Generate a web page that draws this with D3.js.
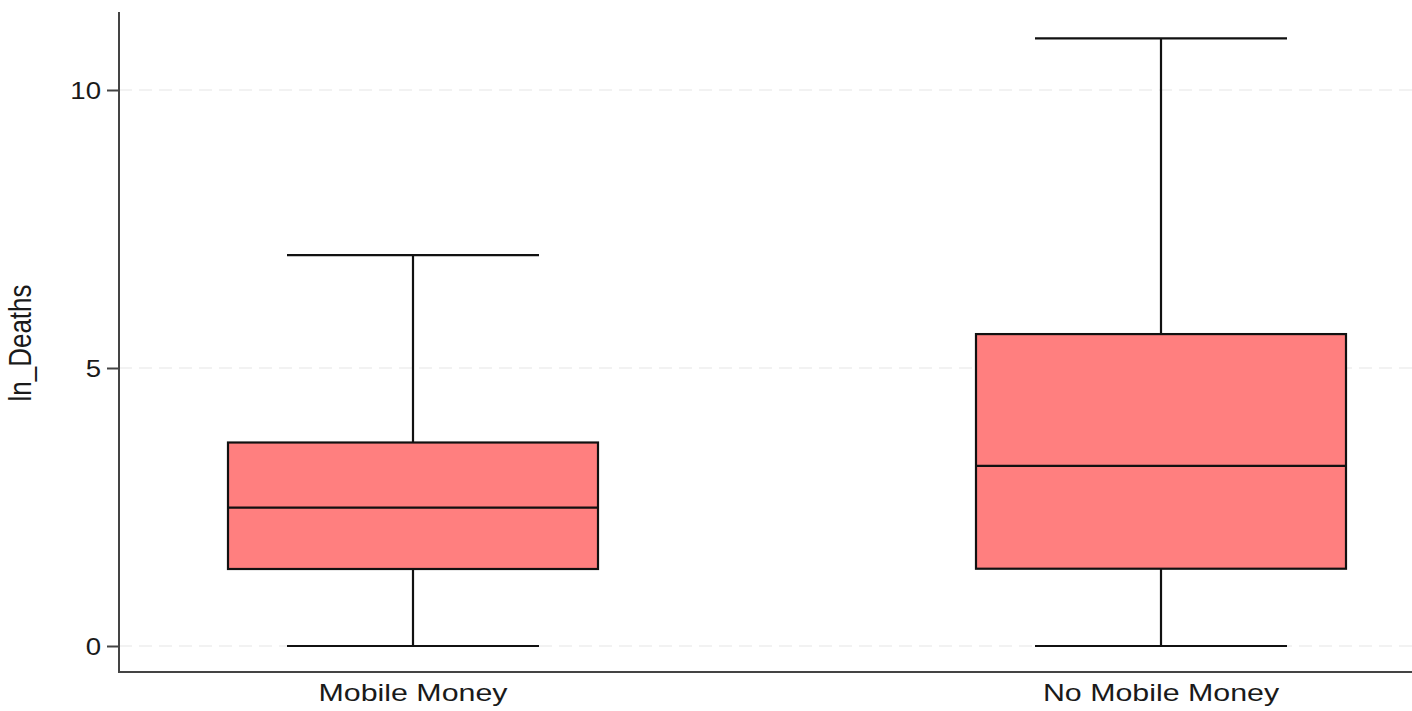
<!DOCTYPE html>
<html>
<head>
<meta charset="utf-8">
<script src="https://cdn.jsdelivr.net/npm/d3@7"></script>
<style>
  html, body { margin: 0; padding: 0; background: #fff; }
  svg { display: block; }
  text { font-family: "Liberation Sans", Arial, Helvetica, sans-serif; fill: #1a1a1a; }
</style>
</head>
<body>
<svg id="chart" width="1412" height="711"></svg>
<script>
// ---- data ----
const categories = ["Mobile Money", "No Mobile Money"];
const whiskerLow = [0, 0];
const q1 = [1.385, 1.39];
const median = [2.49, 3.24];
const q3 = [3.66, 5.61];
const whiskerHigh = [7.03, 10.93];
const yTicks = [0, 5, 10];
const yLabel = "ln_Deaths";

// ---- layout ----
const W = 1412, H = 711;
const axisX = 119, axisBottom = 672, axisTop = 12;
const svg = d3.select("#chart");

const y = d3.scaleLinear().domain([0, 10]).range([646, 90]);
const x = d3.scalePoint().domain(categories).range([413, 1161]);
const boxHalf = 185, capHalf = 126;

// gridlines
svg.append("g").selectAll("line").data(yTicks).join("line")
  .attr("x1", axisX).attr("x2", W)
  .attr("y1", d => y(d)).attr("y2", d => y(d))
  .attr("stroke", "#e6e6e6").attr("stroke-width", 1.2)
  .attr("stroke-dasharray", "13,7");

// y axis
const yAxis = svg.append("g").attr("transform", `translate(${axisX},0)`)
  .call(d3.axisLeft(y).tickValues(yTicks).tickSize(12).tickPadding(6).tickFormat(d3.format("d")));
yAxis.select(".domain").remove();
yAxis.selectAll(".tick line").attr("stroke", "#444").attr("stroke-width", 2);
yAxis.selectAll(".tick text")
  .attr("font-size", 23).attr("fill", "#1a1a1a")
  .attr("dy", "0.36em")
  .each(function() {
    const t = d3.select(this);
    const xx = +t.attr("x");
    t.attr("x", null).attr("transform", `translate(${xx},0) scale(1.2,1)`);
  });

svg.append("line").attr("x1", axisX).attr("x2", axisX)
  .attr("y1", axisTop).attr("y2", axisBottom + 1)
  .attr("stroke", "#444").attr("stroke-width", 2);
svg.append("line").attr("x1", axisX).attr("x2", W)
  .attr("y1", axisBottom).attr("y2", axisBottom)
  .attr("stroke", "#444").attr("stroke-width", 2);

// x labels
svg.append("g").selectAll("text").data(categories).join("text")
  .attr("transform", d => `translate(${x(d)},701) scale(1.32,1)`)
  .attr("text-anchor", "middle")
  .attr("font-size", 23)
  .text(d => d);

// y label
svg.append("text")
  .attr("transform", "translate(31,343) rotate(-90) scale(1,1.2)")
  .attr("text-anchor", "middle")
  .attr("font-size", 26)
  .text(yLabel);

// boxes
const data = categories.map((c, i) => ({
  c, lo: whiskerLow[i], q1: q1[i], med: median[i], q3: q3[i], hi: whiskerHigh[i]
}));
const g = svg.append("g").selectAll("g").data(data).join("g");

g.append("line").attr("x1", d => x(d.c)).attr("x2", d => x(d.c))
  .attr("y1", d => y(d.hi)).attr("y2", d => y(d.q3))
  .attr("stroke", "#111").attr("stroke-width", 2.2);
g.append("line").attr("x1", d => x(d.c)).attr("x2", d => x(d.c))
  .attr("y1", d => y(d.q1)).attr("y2", d => y(d.lo))
  .attr("stroke", "#111").attr("stroke-width", 2.2);
g.append("line").attr("x1", d => x(d.c) - capHalf).attr("x2", d => x(d.c) + capHalf)
  .attr("y1", d => y(d.hi)).attr("y2", d => y(d.hi))
  .attr("stroke", "#111").attr("stroke-width", 2.2);
g.append("line").attr("x1", d => x(d.c) - capHalf).attr("x2", d => x(d.c) + capHalf)
  .attr("y1", d => y(d.lo)).attr("y2", d => y(d.lo))
  .attr("stroke", "#111").attr("stroke-width", 2.2);
g.append("rect")
  .attr("x", d => x(d.c) - boxHalf).attr("width", boxHalf * 2)
  .attr("y", d => y(d.q3)).attr("height", d => y(d.q1) - y(d.q3))
  .attr("fill", "#ff7f7f").attr("stroke", "#111").attr("stroke-width", 2.2);
g.append("line").attr("x1", d => x(d.c) - boxHalf).attr("x2", d => x(d.c) + boxHalf)
  .attr("y1", d => y(d.med)).attr("y2", d => y(d.med))
  .attr("stroke", "#111").attr("stroke-width", 2.2);
</script>
</body>
</html>
